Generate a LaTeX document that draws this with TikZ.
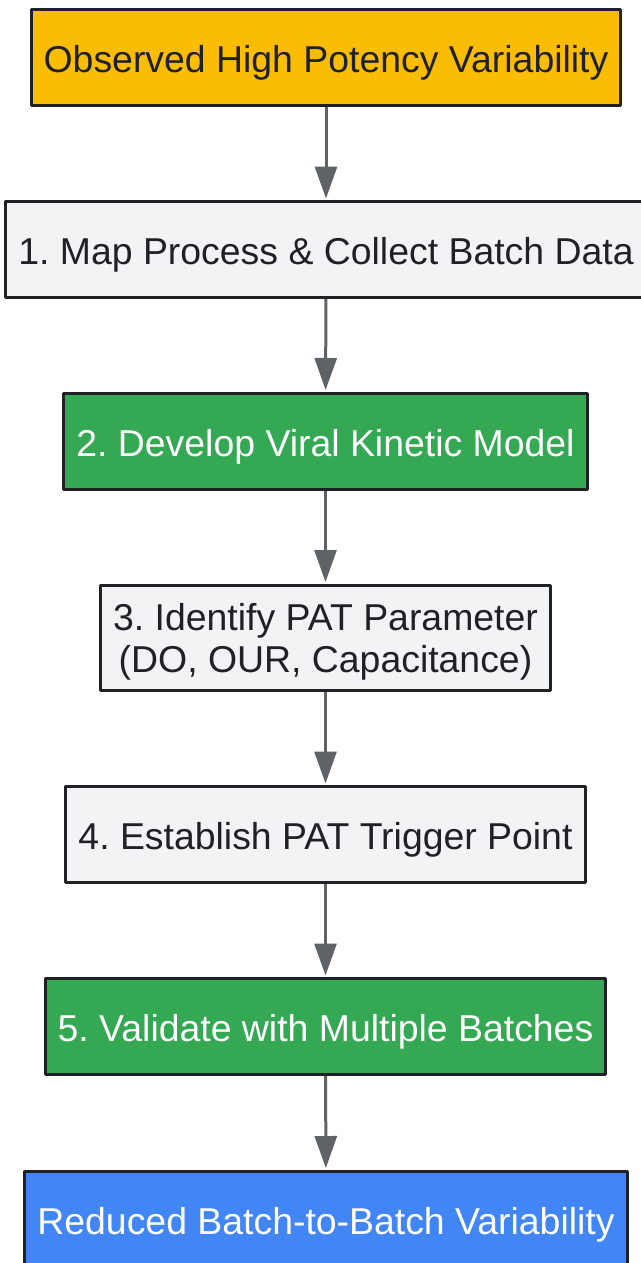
\documentclass[tikz,border=0pt]{standalone}
\usepackage{fontspec}
\setmainfont{Liberation Sans}
\usetikzlibrary{arrows.meta}
\definecolor{potorange}{HTML}{FBBC04}
\definecolor{potgray}{HTML}{F1F3F4}
\definecolor{potgreen}{HTML}{34A853}
\definecolor{potblue}{HTML}{4285F4}
\definecolor{potline}{HTML}{202124}
\definecolor{potarrow}{HTML}{5F6368}
\tikzset{
 boxbase/.style={draw=potline, line width=1.5pt, fill=potgray, text=potline, align=center,
  inner xsep=6.3pt, font=\fontsize{18.7}{21}\selectfont\frenchspacing},
 stagebox/.style={boxbase, minimum height=48pt, text height=15pt, text depth=0pt},
 startbox/.style={stagebox, fill=potorange},
 modelbox/.style={stagebox, fill=potgreen, text=white},
 endbox/.style={stagebox, fill=potblue, text=white},
 flow/.style={draw=potarrow, line width=1.5pt, -{Triangle[width=11pt,length=16pt]}, shorten >=0.75pt}
}
\begin{document}
\begin{tikzpicture}[x=0.5pt, y=-0.5pt, line join=round]
 \useasboundingbox (0,0) rectangle (641,1263);
 \clip (0,0) rectangle (641,1263);
 \node[startbox] (obs) at (326,57.5) {Observed High Potency Variability};
 \node[stagebox] (map) at (326,249.5) {1. Map Process \& Collect Batch Data};
 \node[modelbox] (kin) at (325.5,441) {2. Develop Viral Kinetic Model};
 \node[boxbase, minimum height=52.5pt, text depth=0pt] (pat) at (325.5,637.5) {3. Identify PAT Parameter\\(DO, OUR, Capacitance)};
 \node[stagebox] (trig) at (325.5,834.5) {4. Establish PAT Trigger Point};
 \node[modelbox] (val) at (325.5,1026.5) {5. Validate with Multiple Batches};
 \node[endbox] (red) at (326,1219) {Reduced Batch-to-Batch Variability};
 \foreach \a/\b in {obs/map,map/kin,kin/pat,pat/trig,trig/val,val/red}
 \draw[flow] (\a) -- (\b);
\end{tikzpicture}
\end{document}
